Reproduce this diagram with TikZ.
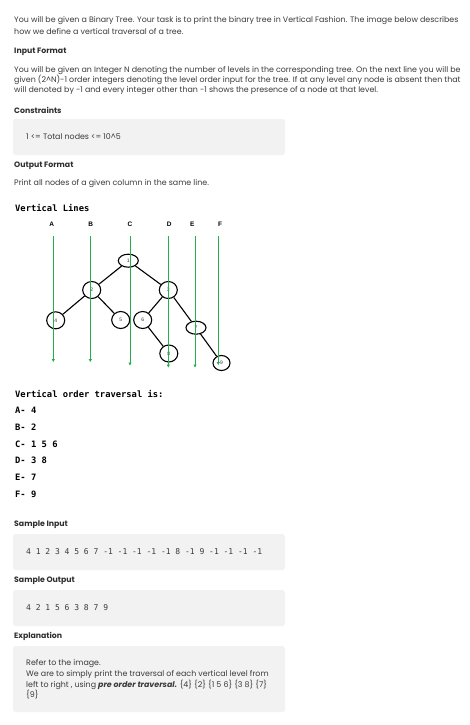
\documentclass[tikz,border=0pt]{standalone}
\usepackage{fontspec}
\setmainfont{Poppins}
\newfontfamily\monofont{DejaVu Sans Mono}
\newfontfamily\labfont{Liberation Sans}
\usetikzlibrary{arrows.meta,shapes.geometric}
\definecolor{txt}{HTML}{3A3A3A}
\definecolor{head}{HTML}{2E2E2E}
\definecolor{boxbg}{HTML}{F2F2F2}
\definecolor{vgreen}{HTML}{22B14C}
\definecolor{numc}{HTML}{33334D}
\tikzset{
  body/.style={anchor=west,inner sep=0pt,text=txt,font=\fontsize{7.9}{9}\selectfont},
  heading/.style={anchor=west,inner sep=0pt,text=head,font=\fontsize{7.8}{9}\selectfont\bfseries},
  graybox/.style={fill=boxbg,draw=none,rounded corners=2.5pt},
  codetxt/.style={anchor=west,inner sep=0pt,text=txt,font=\monofont\fontsize{8}{9}\selectfont},
  monobold/.style={anchor=west,inner sep=0pt,text=black,font=\monofont\bfseries\fontsize{8.8}{10}\selectfont},
  collabel/.style={inner sep=0pt,text=black,font=\labfont\bfseries\fontsize{6.5}{7}\selectfont},
  treenode/.style={ellipse,draw=black,line width=1.1pt,fill=white,inner sep=0pt,
    minimum width=18pt,minimum height=17pt,text=numc,font=\labfont\fontsize{5}{6}\selectfont},
  flatnode/.style={treenode,minimum width=20pt,minimum height=13pt},
  treeedge/.style={draw=black,line width=1.1pt},
  vline/.style={draw=vgreen,line width=0.8pt,-{Triangle[width=3pt,length=3pt]}},
}
\begin{document}
\begin{tikzpicture}[x=1pt,y=-1pt]
\useasboundingbox[fill=white] (0,0) rectangle (470,725);

% --- problem statement ---
\node[body] (p1a) at (14,20.7) {You will be given a Binary Tree. Your task is to print the binary tree in Vertical Fashion. The image below describes};
\node[body] (p1b) at (14,31.2) {how we define a vertical traversal of a tree.};
\node[heading] (h1) at (14,51.7) {Input Format};
\node[body] (p2a) at (14,70.2) {You will be given an Integer N denoting the number of levels in the corresponding tree. On the next line you will be};
\node[body] (p2b) at (14,80.2) {given (2\^{}N)-1 order integers denoting the level order input for the tree. If at any level any node is absent then that};
\node[body] (p2c) at (14,90.2) {will denoted by -1 and every integer other than -1 shows the presence of a node at that level.};
\node[heading] (h2) at (14,110) {Constraints};
\fill[graybox] (13,119) rectangle (285,155);
\node[body] (c1) at (26,137) {1 <= Total nodes <= 10\^{}5};
\node[heading] (h3) at (14,166) {Output Format};
\node[body] (p3) at (14,184) {Print all nodes of a given column in the same line.};

% --- figure ---
\node[monobold] (vl) at (15,207.7) {Vertical Lines};
\node[collabel] (lA) at (51.7,224) {A};
\node[collabel] (lB) at (90.7,224) {B};
\node[collabel] (lC) at (130,224) {C};
\node[collabel] (lD) at (169.3,224) {D};
\node[collabel] (lE) at (192.3,224) {E};
\node[collabel] (lF) at (220,224) {F};

\node[flatnode] (n1) at (128.3,260.7) {1};
\node[treenode] (n2) at (91.7,290) {2};
\node[treenode] (n3) at (168.3,290) {3};
\node[treenode] (n4) at (55.7,320.3) {4};
\node[treenode] (n5) at (120.7,320) {5};
\node[treenode] (n6) at (142.7,320) {6};
\node[flatnode] (n7) at (196,327.7) {7};
\node[treenode] (n8) at (168.8,353.5) {8};
\node[treenode,minimum width=17pt,minimum height=15pt] (n9) at (221.5,363) {9};

\draw[treeedge] (n1) -- (n2);
\draw[treeedge] (n1) -- (n3);
\draw[treeedge] (n2) -- (n4);
\draw[treeedge] (n2) -- (n5);
\draw[treeedge] (n3) -- (n6);
\draw[treeedge] (n3) -- (n7);
\draw[treeedge] (n6) -- (n8);
\draw[treeedge] (n7) -- (n9);

\coordinate (tA) at (53.3,235.7);  \coordinate (bA) at (53.3,362);
\coordinate (tB) at (90.3,235.7);  \coordinate (bB) at (90.3,362);
\coordinate (tC) at (130,235.7);   \coordinate (bC) at (130,365.5);
\coordinate (tD) at (168.3,235.7); \coordinate (bD) at (168.3,367.5);
\coordinate (tE) at (195,235.7);   \coordinate (bE) at (195,367.5);
\coordinate (tF) at (218.3,235.7); \coordinate (bF) at (218.3,365);
\foreach \c in {A,B,C,D,E,F} { \draw[vline] (t\c) -- (b\c); }

% --- traversal listing ---
\node[monobold] (vo) at (15,394) {Vertical order traversal is:};
\node[monobold] (rA) at (15,410.7) {A- 4};
\node[monobold] (rB) at (15,427.7) {B- 2};
\node[monobold] (rC) at (15,444.2) {C- 1 5 6};
\node[monobold] (rD) at (15,460.7) {D- 3 8};
\node[monobold] (rE) at (15,477.3) {E- 7};
\node[monobold] (rF) at (15,494.3) {F- 9};

% --- samples ---
\node[heading] (h4) at (14,525) {Sample Input};
\fill[graybox] (13,534) rectangle (285,570);
\node[codetxt] (si) at (26,551.7) {4 1 2 3 4 5 6 7 -1 -1 -1 -1 -1 8 -1 9 -1 -1 -1 -1};
\node[heading] (h5) at (14,581) {Sample Output};
\fill[graybox] (13,590) rectangle (285,626);
\node[codetxt] (so) at (26,607.7) {4 2 1 5 6 3 8 7 9};
\node[heading] (h6) at (14,636.7) {Explanation};
\fill[graybox] (13,646) rectangle (285,712);
\node[body] (e1) at (26,664) {Refer to the image.};
\node[body] (e2) at (26,674.2) {We are to simply print the traversal of each vertical level from};
\node[body] (e3) at (26,684.7) {left to right , using \textbf{\textit{pre order traversal.}} \{4\} \{2\} \{1 5 6\} \{3 8\} \{7\}};
\node[body] (e4) at (26,695) {\{9\}};
\end{tikzpicture}
\end{document}
